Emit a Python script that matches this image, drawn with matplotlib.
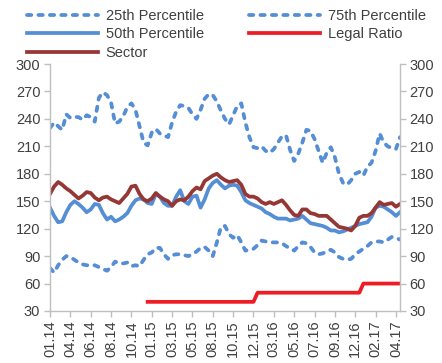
import numpy as np
import matplotlib
matplotlib.use("Agg")
import matplotlib.pyplot as plt

plt.rcParams['font.family'] = ['Liberation Sans', 'DejaVu Sans']

# Fortnightly observations, Jan 2014 - Apr 2017
tick_labels = ["01.14", "04.14", "06.14", "08.14", "10.14", "01.15", "03.15",
               "05.15", "08.15", "10.15", "12.15", "03.16", "05.16", "07.16",
               "09.16", "12.16", "02.17", "04.17"]

p75 = [230, 236, 232, 228, 245, 241, 242, 242, 239, 244, 242, 237, 263, 269, 266,
       258, 235, 237, 243, 253, 257, 250, 232, 214, 211, 225, 229, 224, 222, 220,
       236, 248, 255, 254, 252, 245, 240, 250, 262, 267, 266, 259, 249, 240, 234,
       244, 254, 257, 236, 220, 209, 208, 210, 205, 203, 207, 214, 221, 222, 206,
       194, 202, 214, 228, 227, 218, 205, 192, 203, 209, 198, 180, 170, 168, 173,
       180, 182, 178, 188, 192, 205, 224, 214, 210, 208, 207, 220]

p25 = [77, 72, 80, 86, 90, 89, 86, 83, 81, 80, 80, 80, 78, 76, 74,
       78, 84, 82, 82, 83, 79, 80, 79, 86, 92, 94, 99, 99, 92, 87,
       91, 92, 92, 91, 90, 92, 95, 99, 100, 96, 90, 105, 122, 123, 114,
       110, 113, 105, 96, 97, 98, 102, 107, 106, 105, 105, 105, 104, 101, 98,
       96, 101, 105, 104, 100, 94, 92, 93, 95, 97, 94, 89, 87, 86, 87,
       92, 95, 98, 101, 105, 106, 106, 105, 108, 111, 110, 108]

p50 = [143, 134, 127, 128, 138, 146, 150, 147, 143, 138, 141, 147, 146, 137, 130,
       133, 128, 130, 133, 137, 145, 151, 153, 152, 148, 147, 158, 155, 148, 145,
       145, 155, 162, 150, 147, 155, 156, 143, 152, 164, 170, 173, 168, 164, 167,
       168, 167, 160, 151, 148, 146, 144, 142, 138, 136, 133, 131, 131, 131, 129,
       130, 131, 134, 130, 126, 125, 124, 123, 121, 118, 118, 116, 117, 119, 121,
       123, 125, 126, 127, 133, 143, 145, 144, 141, 138, 134, 138]

sector = [158, 166, 171, 168, 164, 161, 157, 153, 156, 160, 159, 154, 151, 154, 155,
          152, 150, 148, 153, 158, 166, 167, 158, 152, 150, 153, 159, 155, 152, 150,
          145, 150, 152, 151, 155, 161, 165, 163, 172, 175, 178, 180, 176, 173, 171,
          172, 173, 168, 158, 155, 155, 153, 149, 147, 149, 147, 149, 151, 146, 140,
          135, 134, 141, 141, 137, 136, 134, 134, 134, 130, 126, 122, 121, 120, 118,
          123, 132, 134, 134, 137, 143, 149, 146, 147, 148, 144, 147]

# Legal ratio only applies from January 2015 onwards
legal = [np.nan] * 24 + [40] * 27 + [50] * 26 + [60] * 10

x = np.arange(len(p50))

blue = "#558ED5"
dark_red = "#953735"
red = "#EE1C25"
text_col = "#404040"
axis_col = "#BFBFBF"

fig = plt.figure(figsize=(4.42, 3.63), dpi=100)
ax = fig.add_axes([50 / 442, 1 - 311 / 363, 350 / 442, 247 / 363])

lw = 2.7
dash = (1.15, 1.9)
dkw = dict(dashes=dash, dash_capstyle="round")
l25, = ax.plot(x, p25, color=blue, lw=lw, label="25th Percentile", **dkw)
l75, = ax.plot(x, p75, color=blue, lw=lw, label="75th Percentile", **dkw)
l50, = ax.plot(x, p50, color=blue, lw=lw, label="50th Percentile")
lleg, = ax.plot(x, legal, color=red, lw=lw, label="Legal Ratio")
lsec, = ax.plot(x, sector, color=dark_red, lw=lw, label="Sector")

ax.set_xlim(0, len(x) - 1)
ax.set_ylim(30, 300)
ax.set_yticks(np.arange(30, 301, 30))
ax.set_xticks(np.arange(0, len(x), 5)[:len(tick_labels)])
ax.set_xticklabels(tick_labels, rotation=90)

for side in ("left", "right", "bottom"):
    ax.spines[side].set_color(axis_col)
    ax.spines[side].set_linewidth(1.0)
ax.spines["top"].set_visible(False)

ax.tick_params(axis="y", which="both", direction="out", length=4, width=1,
               color=axis_col, labelcolor=text_col, labelsize=10.5,
               left=True, right=True, labelleft=True, labelright=True, pad=3)
ax.tick_params(axis="x", direction="out", length=4, width=1, color=axis_col,
               labelcolor=text_col, labelsize=10.5, pad=3)

handles = [l25, l50, lsec, l75, lleg]
leg = fig.legend(handles, [h.get_label() for h in handles], ncol=2,
                 loc="upper left", bbox_to_anchor=(24 / 442, 1 - 6 / 363),
                 frameon=False, fontsize=10.5, handlelength=4.9,
                 handletextpad=0.5, columnspacing=3.1, labelspacing=0.3,
                 borderaxespad=0, borderpad=0.2)
for t in leg.get_texts():
    t.set_color(text_col)

fig.savefig("out.png", dpi=100)
